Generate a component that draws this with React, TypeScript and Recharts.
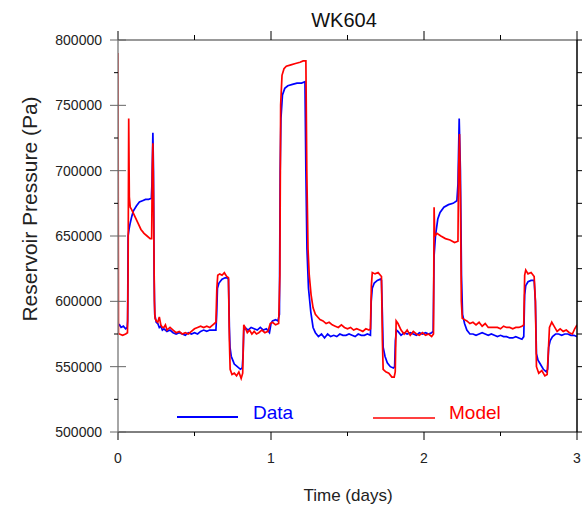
import React from 'react';
import { LineChart, Line, XAxis, YAxis, Legend, Label } from 'recharts';

const chartTitle = 'WK604';
const xAxisTitle = 'Time (days)';
const yAxisTitle = 'Reservoir Pressure (Pa)';

const xTicks = [0, 0.5, 1, 1.5, 2, 2.5, 3];
const yTicks = [500000, 525000, 550000, 575000, 600000, 625000, 650000, 675000, 700000, 725000, 750000, 775000, 800000];

const seriesNames = ['Data', 'Model'];
const seriesColors = ['#0000ff', '#ff0000'];

// Measured data (blue)
const dataT = [
  0.000, 0.010, 0.020, 0.035, 0.050, 0.060, 0.063, 0.066, 0.072, 0.080, 0.090, 0.100, 0.120, 0.140, 0.160, 0.180, 0.200, 0.218, 0.222, 0.228, 0.232, 0.236, 0.240, 0.250, 0.260, 0.270, 0.280, 0.290, 0.300, 0.320, 0.340, 0.360, 0.380, 0.400, 0.420, 0.440, 0.460, 0.480, 0.500, 0.520, 0.540, 0.560, 0.580, 0.600, 0.620, 0.640,
  0.645, 0.650, 0.660, 0.680, 0.700, 0.715, 0.722, 0.728, 0.732, 0.740, 0.750, 0.760, 0.780, 0.800, 0.812, 0.818, 0.822, 0.830, 0.850, 0.870, 0.890, 0.910, 0.930, 0.950, 0.970, 0.990, 1.000, 1.010, 1.030, 1.045, 1.055,
  1.060, 1.065, 1.075, 1.090, 1.110, 1.140, 1.170, 1.200, 1.222, 1.228, 1.235, 1.245, 1.260, 1.275, 1.290, 1.310, 1.330, 1.350, 1.370, 1.390, 1.410, 1.430, 1.450, 1.470, 1.490, 1.510, 1.530, 1.550, 1.570, 1.590, 1.610, 1.630, 1.650,
  1.655, 1.662, 1.675, 1.695, 1.715, 1.722, 1.728, 1.733, 1.745, 1.760, 1.780, 1.800, 1.808, 1.813, 1.820, 1.830, 1.850, 1.870, 1.890, 1.910, 1.930, 1.950, 1.970, 1.990, 2.010, 2.030, 2.050, 2.060,
  2.066, 2.075, 2.090, 2.105, 2.130, 2.160, 2.190, 2.215, 2.222, 2.230, 2.238, 2.245, 2.252, 2.265, 2.280, 2.300, 2.320, 2.340, 2.360, 2.380, 2.400, 2.420, 2.440, 2.460, 2.480, 2.500, 2.520, 2.540, 2.560, 2.580, 2.600, 2.620, 2.640, 2.652,
  2.658, 2.665, 2.680, 2.700, 2.720, 2.728, 2.735, 2.745, 2.760, 2.780, 2.800, 2.808, 2.815, 2.825, 2.840, 2.860, 2.880, 2.900, 2.920, 2.940, 2.960, 2.980, 3.000,
];
const dataP = [
  581000, 582000, 580000, 581000, 579000, 580000, 585000, 650000, 655000, 660000, 665000, 669000, 673000, 676000, 677000, 678000, 678000, 679000, 690000, 729000, 700000, 620000, 590000, 584000, 583000, 580000, 581000, 578000, 579000, 577000, 578000, 576000, 575000, 576000, 575000, 574000, 576000, 575000, 576000, 575000, 577000, 578000, 577000, 578000, 578000, 578000,
  590000, 610000, 614000, 617000, 618000, 618000, 617000, 580000, 565000, 558000, 555000, 552000, 550000, 548000, 549000, 560000, 578000, 580000, 578000, 580000, 579000, 578000, 580000, 578000, 579000, 576000, 583000, 585000, 586000, 585000, 590000,
  700000, 740000, 758000, 763000, 765000, 766000, 767000, 767000, 768000, 700000, 640000, 610000, 592000, 580000, 576000, 573000, 575000, 572000, 575000, 573000, 574000, 573000, 575000, 574000, 574000, 575000, 574000, 573000, 575000, 574000, 574000, 575000, 574000,
  600000, 610000, 614000, 616000, 617000, 616000, 590000, 565000, 558000, 553000, 550000, 549000, 550000, 570000, 578000, 577000, 574000, 576000, 575000, 576000, 575000, 574000, 576000, 575000, 576000, 575000, 576000, 577000,
  635000, 650000, 663000, 668000, 672000, 674000, 675000, 677000, 690000, 740000, 700000, 620000, 590000, 583000, 578000, 575000, 575000, 574000, 575000, 576000, 575000, 574000, 575000, 574000, 573000, 574000, 573000, 573000, 572000, 572000, 573000, 572000, 571000, 573000,
  605000, 612000, 615000, 616000, 616000, 600000, 560000, 555000, 552000, 548000, 546000, 548000, 565000, 570000, 573000, 575000, 575000, 574000, 575000, 575000, 574000, 574000, 573000,
];

// Model (red)
const modelT = [
  0.000, 0.003, 0.010, 0.030, 0.050, 0.062, 0.066, 0.070, 0.074, 0.080, 0.090, 0.110, 0.130, 0.150, 0.170, 0.190, 0.210, 0.220, 0.224, 0.228, 0.232, 0.238, 0.242, 0.250, 0.260, 0.270, 0.280, 0.290, 0.300, 0.310, 0.320, 0.340, 0.360, 0.380, 0.400, 0.420, 0.440, 0.460, 0.480, 0.500, 0.520, 0.540, 0.560, 0.580, 0.600, 0.620, 0.640,
  0.646, 0.652, 0.665, 0.680, 0.695, 0.710, 0.722, 0.728, 0.733, 0.745, 0.760, 0.775, 0.790, 0.805, 0.815, 0.822, 0.830, 0.845, 0.860, 0.875, 0.890, 0.905, 0.920, 0.940, 0.960, 0.980, 0.995, 1.010, 1.030, 1.050,
  1.058, 1.063, 1.072, 1.085, 1.100, 1.130, 1.160, 1.190, 1.210, 1.228, 1.234, 1.242, 1.250, 1.262, 1.275, 1.290, 1.305, 1.320, 1.340, 1.360, 1.380, 1.400, 1.420, 1.440, 1.460, 1.480, 1.500, 1.520, 1.540, 1.560, 1.580, 1.600, 1.620, 1.640, 1.650,
  1.656, 1.662, 1.680, 1.700, 1.715, 1.722, 1.728, 1.733, 1.750, 1.770, 1.790, 1.805, 1.812, 1.818, 1.830, 1.850, 1.870, 1.890, 1.910, 1.930, 1.950, 1.970, 1.990, 2.010, 2.030, 2.050, 2.062,
  2.066, 2.070, 2.085, 2.110, 2.140, 2.170, 2.200, 2.222, 2.226, 2.232, 2.238, 2.244, 2.250, 2.265, 2.280, 2.300, 2.320, 2.340, 2.360, 2.380, 2.400, 2.420, 2.440, 2.460, 2.480, 2.500, 2.520, 2.540, 2.560, 2.580, 2.600, 2.620, 2.640, 2.652,
  2.658, 2.665, 2.680, 2.700, 2.720, 2.728, 2.735, 2.750, 2.770, 2.790, 2.805, 2.812, 2.820, 2.835, 2.850, 2.870, 2.890, 2.910, 2.930, 2.950, 2.970, 2.985, 3.000,
];
const modelP = [
  790000, 575000, 575000, 574000, 575000, 576000, 620000, 740000, 680000, 672000, 670000, 665000, 660000, 655000, 652000, 650000, 648000, 648000, 700000, 721000, 680000, 600000, 587000, 585000, 584000, 588000, 582000, 580000, 580000, 582000, 578000, 580000, 578000, 576000, 577000, 575000, 576000, 575000, 577000, 579000, 580000, 581000, 580000, 581000, 580000, 582000, 584000,
  610000, 620000, 621000, 620000, 622000, 619000, 618000, 570000, 548000, 544000, 545000, 543000, 546000, 541000, 545000, 582000, 580000, 576000, 578000, 575000, 577000, 575000, 576000, 578000, 576000, 577000, 583000, 584000, 582000, 583000,
  620000, 750000, 773000, 778000, 780000, 781000, 782000, 783000, 784000, 784000, 700000, 640000, 620000, 605000, 595000, 590000, 588000, 586000, 585000, 583000, 584000, 582000, 581000, 580000, 582000, 580000, 579000, 580000, 578000, 579000, 578000, 577000, 579000, 578000, 579000,
  612000, 622000, 621000, 622000, 620000, 619000, 570000, 548000, 546000, 545000, 542000, 542000, 546000, 585000, 583000, 578000, 575000, 578000, 574000, 577000, 575000, 574000, 576000, 574000, 575000, 573000, 575000,
  672000, 650000, 652000, 650000, 648000, 647000, 645000, 646000, 700000, 728000, 680000, 600000, 587000, 586000, 585000, 583000, 584000, 582000, 584000, 581000, 583000, 580000, 580000, 580000, 580000, 579000, 581000, 580000, 580000, 579000, 580000, 580000, 581000, 582000,
  620000, 624000, 621000, 622000, 619000, 600000, 550000, 545000, 547000, 543000, 544000, 560000, 580000, 584000, 581000, 577000, 579000, 577000, 578000, 576000, 575000, 579000, 582000,
];

const dataSeries = dataT.map((t, i) => ({ t, p: dataP[i] }));
const modelSeries = modelT.map((t, i) => ({ t, p: modelP[i] }));

const FONT = '"Liberation Sans", Arial, sans-serif';
const W = 586;
const H = 508;

const BottomTick = (props: any) => {
  const { x, y, payload } = props;
  const major = Number.isInteger(payload.value);
  return (
    <g>
      <line x1={x} y1={y} x2={x} y2={y + (major ? 8 : 4)} stroke="#000" strokeWidth={1} />
      {major && (
        <text x={x} y={y + 31} textAnchor="middle" fontSize={14} fontFamily={FONT} fill="#222">
          {payload.value}
        </text>
      )}
    </g>
  );
};

const TopTick = (props: any) => {
  const { x, y, payload } = props;
  const major = Number.isInteger(payload.value);
  return <line x1={x} y1={y} x2={x} y2={y - (major ? 9 : 5)} stroke="#000" strokeWidth={1} />;
};

const LeftTick = (props: any) => {
  const { x, y, payload } = props;
  const major = payload.value % 50000 === 0;
  return (
    <g>
      <line x1={major ? x - 8 : x - 4} y1={y} x2={major ? x + 8 : x} y2={y} stroke={major ? '#666' : '#000'} strokeWidth={1} />
      {major && (
        <text x={x - 16} y={y + 5} textAnchor="end" fontSize={14} fontFamily={FONT} fill="#222">
          {payload.value}
        </text>
      )}
    </g>
  );
};

const RightTick = (props: any) => {
  const { x, y } = props;
  return <line x1={x} y1={y} x2={x + 5} y2={y} stroke="#000" strokeWidth={1} />;
};

const renderLegend = () => (
  <svg width={W} height={H} style={{ position: 'absolute', left: 0, top: 0 }}>
    <line x1={177} y1={417} x2={238} y2={417} stroke={seriesColors[0]} strokeWidth={2} />
    <text x={253} y={419} fontSize={19} fontFamily={FONT} fill={seriesColors[0]}>{seriesNames[0]}</text>
    <line x1={373} y1={418} x2={435} y2={418} stroke={seriesColors[1]} strokeWidth={1.6} />
    <text x={449} y={419} fontSize={19} fontFamily={FONT} fill={seriesColors[1]}>{seriesNames[1]}</text>
  </svg>
);

export default function App() {
  return (
    <div style={{ position: 'absolute', left: 0, top: 0, width: W, height: H, background: '#fff' }}>
      <LineChart width={W} height={H} margin={{ top: 30, right: 0, bottom: 26, left: 0 }}>
        <XAxis
          xAxisId="b"
          dataKey="t"
          type="number"
          domain={[0, 3]}
          ticks={xTicks}
          interval={0}
          allowDataOverflow
          height={50}
          axisLine={{ stroke: '#000', strokeWidth: 1 }}
          tickLine={false}
          tickSize={0}
          tickMargin={0}
          tick={<BottomTick />}
        >
          <Label
            content={() => (
              <text x={348} y={501} textAnchor="middle" fontSize={17} fontFamily={FONT} fill="#222">
                {xAxisTitle}
              </text>
            )}
          />
        </XAxis>
        <XAxis
          xAxisId="t"
          orientation="top"
          dataKey="t"
          type="number"
          domain={[0, 3]}
          ticks={xTicks}
          interval={0}
          allowDataOverflow
          height={10}
          axisLine={{ stroke: '#777', strokeWidth: 1.5 }}
          tickLine={false}
          tickSize={0}
          tickMargin={0}
          tick={<TopTick />}
        >
          <Label
            content={() => (
              <text x={344} y={27} textAnchor="middle" fontSize={20} fontFamily={FONT} fill="#111">
                {chartTitle}
              </text>
            )}
          />
        </XAxis>
        <YAxis
          yAxisId="l"
          type="number"
          domain={[500000, 800000]}
          ticks={yTicks}
          interval={0}
          allowDataOverflow
          width={118}
          axisLine={{ stroke: '#888', strokeWidth: 1.5 }}
          tickLine={false}
          tickSize={0}
          tickMargin={0}
          tick={<LeftTick />}
        >
          <Label
            content={() => (
              <text
                x={37}
                y={209}
                transform="rotate(-90, 37, 209)"
                textAnchor="middle"
                fontSize={21}
                fontFamily={FONT}
                fill="#222"
              >
                {yAxisTitle}
              </text>
            )}
          />
        </YAxis>
        <YAxis
          yAxisId="r"
          orientation="right"
          type="number"
          domain={[500000, 800000]}
          ticks={yTicks}
          interval={0}
          allowDataOverflow
          width={9}
          axisLine={{ stroke: '#000', strokeWidth: 1.5 }}
          tickLine={false}
          tickSize={0}
          tickMargin={0}
          tick={<RightTick />}
        />
        <Legend layout="horizontal" verticalAlign="middle" align="center" content={renderLegend} wrapperStyle={{ left: 0, top: 0, width: W, height: H, pointerEvents: 'none' }} />
        <Line
          xAxisId="b"
          yAxisId="l"
          data={dataSeries}
          dataKey="p"
          name={seriesNames[0]}
          type="linear"
          stroke={seriesColors[0]}
          strokeWidth={1.7}
          dot={false}
          isAnimationActive={false}
        />
        <Line
          xAxisId="b"
          yAxisId="l"
          data={modelSeries}
          dataKey="p"
          name={seriesNames[1]}
          type="linear"
          stroke={seriesColors[1]}
          strokeWidth={1.7}
          dot={false}
          isAnimationActive={false}
        />
      </LineChart>
    </div>
  );
}
